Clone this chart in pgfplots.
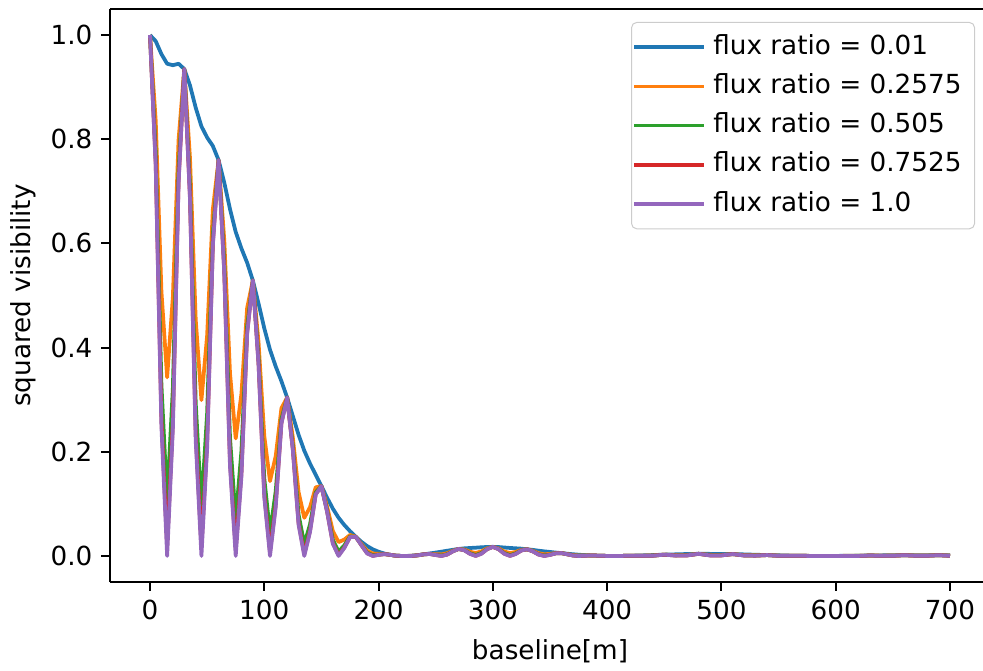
\documentclass[border=0pt]{standalone}
\usepackage{fontspec}
\setmainfont{DejaVu Sans}
\usepackage{pgfplots}
\usepackage{pgfplotstable}
\pgfplotsset{compat=1.18}
\definecolor{c0}{HTML}{1F77B4}
\definecolor{c1}{HTML}{FF7F0E}
\definecolor{c2}{HTML}{2CA02C}
\definecolor{c3}{HTML}{D62728}
\definecolor{c4}{HTML}{9467BD}

\pgfplotstableread{
B s1 s2 s3 s4 s5
0 1 1 1 1 1
5 0.9883 0.8356 0.7755 0.7536 0.7486
10 0.9634 0.5077 0.3287 0.2630 0.2482
15 0.9449 0.3428 0.1064 0.0196 0
20 0.9421 0.4965 0.3214 0.2572 0.2427
25 0.9449 0.7989 0.7415 0.7205 0.7157
30 0.9348 0.9348 0.9348 0.9348 0.9348
35 0.9033 0.7637 0.7088 0.6887 0.6842
40 0.8605 0.4535 0.2936 0.2349 0.2217
45 0.8247 0.2992 0.0929 0.0171 0
50 0.8033 0.4233 0.2740 0.2193 0.2069
55 0.7870 0.6654 0.6176 0.6001 0.5961
60 0.7600 0.7600 0.7600 0.7600 0.7600
65 0.7166 0.6059 0.5623 0.5464 0.5428
70 0.6659 0.3509 0.2272 0.1818 0.1715
75 0.6221 0.2257 0.0701 0.0129 0
80 0.5903 0.3111 0.2014 0.1612 0.1521
85 0.5630 0.4760 0.4418 0.4293 0.4265
90 0.5288 0.5288 0.5288 0.5288 0.5288
95 0.4845 0.4096 0.3802 0.3694 0.3670
100 0.4371 0.2303 0.1491 0.1193 0.1126
105 0.3959 0.1437 0.0446 0.0082 0
110 0.3638 0.1917 0.1241 0.0993 0.0937
115 0.3355 0.2836 0.2632 0.2558 0.2541
120 0.3041 0.3041 0.3041 0.3041 0.3041
125 0.2684 0.2270 0.2106 0.2047 0.2033
130 0.2327 0.1227 0.0794 0.0635 0.0600
135 0.2021 0.0733 0.0228 0.0042 0
140 0.1774 0.0935 0.0605 0.0484 0.0457
145 0.1559 0.1318 0.1223 0.1188 0.1181
150 0.1340 0.1340 0.1340 0.1340 0.1340
155 0.1116 0.0944 0.0876 0.0851 0.0845
160 0.0908 0.0478 0.0310 0.0248 0.0234
165 0.0734 0.0266 0.0083 0.0015 0
170 0.0595 0.0314 0.0203 0.0162 0.0153
175 0.0476 0.0403 0.0374 0.0363 0.0361
180 0.0369 0.0369 0.0369 0.0369 0.0369
185 0.0271 0.0229 0.0213 0.0207 0.0206
190 0.0189 0.0100 0.0065 0.0052 0.0049
195 0.0127 0.0046 0.0014 0.0003 0
200 0.0081 0.0042 0.0027 0.0022 0.0021
205 0.0047 0.0039 0.0037 0.0035 0.0035
210 0.0022 0.0022 0.0022 0.0022 0.0022
215 0.0007 0.0006 0.0005 0.0005 0.0005
220 0.0001 0 0 0 0
225 0.0001 0 0 0 0
230 0.0007 0.0004 0.0002 0.0002 0.0002
235 0.0018 0.0015 0.0014 0.0014 0.0014
240 0.0033 0.0033 0.0033 0.0033 0.0033
245 0.0049 0.0041 0.0038 0.0037 0.0037
250 0.0065 0.0034 0.0022 0.0018 0.0017
255 0.0082 0.0030 0.0009 0.0002 0
260 0.0100 0.0053 0.0034 0.0027 0.0026
265 0.0118 0.0100 0.0092 0.0090 0.0089
270 0.0134 0.0134 0.0134 0.0134 0.0134
275 0.0146 0.0123 0.0114 0.0111 0.0110
280 0.0153 0.0081 0.0052 0.0042 0.0040
285 0.0159 0.0058 0.0018 0.0003 0
290 0.0167 0.0088 0.0057 0.0046 0.0043
295 0.0172 0.0146 0.0135 0.0131 0.0131
300 0.0175 0.0175 0.0175 0.0175 0.0175
305 0.0171 0.0145 0.0134 0.0131 0.0130
310 0.0162 0.0085 0.0055 0.0044 0.0042
315 0.0154 0.0056 0.0017 0.0003 0
320 0.0147 0.0077 0.0050 0.0040 0.0038
325 0.0140 0.0118 0.0110 0.0106 0.0106
330 0.0128 0.0128 0.0128 0.0128 0.0128
335 0.0116 0.0098 0.0091 0.0088 0.0088
340 0.0101 0.0053 0.0034 0.0028 0.0026
345 0.0088 0.0032 0.0010 0.0002 0
350 0.0077 0.0040 0.0026 0.0021 0.0020
355 0.0065 0.0055 0.0051 0.0050 0.0050
360 0.0055 0.0055 0.0055 0.0055 0.0055
365 0.0043 0.0036 0.0033 0.0032 0.0032
370 0.0033 0.0017 0.0011 0.0009 0.0009
375 0.0024 0.0009 0.0003 0 0
380 0.0017 0.0009 0.0006 0.0005 0.0004
385 0.0011 0.0009 0.0009 0.0008 0.0008
390 0.0007 0.0007 0.0007 0.0007 0.0007
395 0.0003 0.0003 0.0003 0.0003 0.0003
400 0.0001 0.0001 0.0001 0.0001 0.0001
410 0 0 0 0 0
420 0.0004 0.0004 0.0004 0.0004 0.0004
430 0.0010 0.0005 0.0003 0.0003 0.0003
440 0.0017 0.0009 0.0006 0.0005 0.0004
450 0.0025 0.0025 0.0025 0.0025 0.0025
460 0.0031 0.0016 0.0011 0.0008 0.0008
470 0.0037 0.0019 0.0013 0.0010 0.0010
480 0.0041 0.0041 0.0041 0.0041 0.0041
490 0.0040 0.0021 0.0014 0.0011 0.0010
500 0.0039 0.0020 0.0013 0.0011 0.0010
510 0.0036 0.0036 0.0036 0.0036 0.0036
520 0.0030 0.0016 0.0010 0.0008 0.0008
530 0.0023 0.0012 0.0008 0.0006 0.0006
540 0.0017 0.0017 0.0017 0.0017 0.0017
550 0.0012 0.0006 0.0004 0.0003 0.0003
560 0.0006 0.0003 0.0002 0.0002 0.0002
570 0.0003 0.0003 0.0003 0.0003 0.0003
580 0.0001 0.0001 0 0 0
590 0 0 0 0 0
600 0.0001 0.0001 0.0001 0.0001 0.0001
610 0.0003 0.0002 0.0001 0.0001 0.0001
620 0.0005 0.0003 0.0002 0.0001 0.0001
630 0.0008 0.0008 0.0008 0.0008 0.0008
640 0.0011 0.0006 0.0004 0.0003 0.0003
650 0.0013 0.0007 0.0004 0.0003 0.0003
660 0.0015 0.0015 0.0015 0.0015 0.0015
670 0.0016 0.0008 0.0005 0.0004 0.0004
680 0.0016 0.0008 0.0005 0.0004 0.0004
690 0.0015 0.0015 0.0015 0.0015 0.0015
700 0.0013 0.0007 0.0004 0.0003 0.0003
}\datatab

\begin{document}
\begin{tikzpicture}
\begin{axis}[
  at={(0pt,0pt)}, anchor=south west,
  scale only axis, width=352pt, height=229.2pt,
  xmin=-35, xmax=735, ymin=-0.05, ymax=1.05,
  xtick={0,100,200,300,400,500,600,700},
  ytick={0,0.2,0.4,0.6,0.8,1.0},
  axis x line*=box, axis y line*=left,
  tick pos=left,
  tick align=outside, major tick length=3.5pt,
  every tick/.style={black, line width=0.8pt},
  axis line style={line width=0.8pt, -},
  every axis/.append style={font=\fontsize{10.5pt}{12.6pt}\selectfont},
  /pgf/number format/assume math mode=true,
  yticklabel style={/pgf/number format/.cd, fixed, fixed zerofill, precision=1},
  xticklabel style={/pgf/number format/.cd, fixed, precision=0},
  xlabel={baseline[m]}, ylabel={squared visibility},
  every axis x label/.style={at={([yshift=-30.8pt]axis description cs:0.5,0)}, anchor=base},
  every axis y label/.style={at={([xshift=-34.6pt]axis description cs:0,0.5)}, rotate=90, anchor=center},
  legend cell align=left,
  legend image code/.code={\path (-1.6pt,0pt) -- (26.4pt,0pt); \draw[#1, line width=1.5pt] (0pt,0pt) -- (22pt,0pt);},
  legend style={at={([xshift=-6pt,yshift=-5.2pt]axis description cs:1,1)}, anchor=north east,
    draw=black!20, rounded corners=2pt, fill=white, fill opacity=0.8, text opacity=1,
    inner xsep=0.2pt, inner ysep=2pt, row sep=0pt,
    nodes={inner xsep=3pt, inner ysep=2.5pt, text height=8.2pt, text depth=2.5pt}},
  line join=round,
]
\addplot[c0, line width=1.5pt] table[x=B, y=s1] {\datatab};
\addlegendentry{flux ratio = 0.01\hspace*{2pt}}
\addplot[c1, line width=1.5pt] table[x=B, y=s2] {\datatab};
\addlegendentry{flux ratio = 0.2575\hspace*{2pt}}
\addplot[c2, line width=1.5pt] table[x=B, y=s3] {\datatab};
\addlegendentry{flux ratio = 0.505\hspace*{2pt}}
\addplot[c3, line width=1.5pt] table[x=B, y=s4] {\datatab};
\addlegendentry{flux ratio = 0.7525\hspace*{2pt}}
\addplot[c4, line width=1.5pt] table[x=B, y=s5] {\datatab};
\addlegendentry{flux ratio = 1.0\hspace*{2pt}}
\end{axis}
\pgfresetboundingbox
\useasboundingbox (-44pt,-35.2pt) rectangle (349.2pt,232.8pt);
\end{tikzpicture}
\end{document}
